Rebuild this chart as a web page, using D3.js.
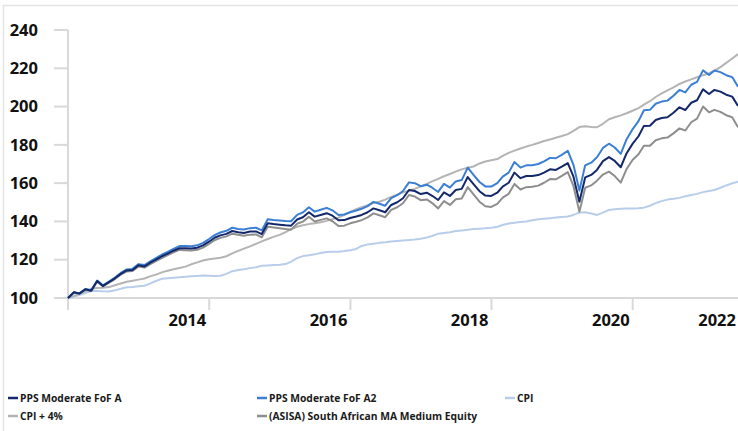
<!DOCTYPE html>
<html>
<head>
<meta charset="utf-8">
<script src="https://cdn.jsdelivr.net/npm/d3@7/dist/d3.min.js"></script>
<style>
  html, body { margin: 0; padding: 0; background: #fff; }
  svg { display: block; font-family: "Open Sans", sans-serif; }
</style>
</head>
<body>
<svg id="chart" width="738" height="431"></svg>
<script>
// Monthly index values, Dec 2012 = 100 (month-end closes through Jun 2022)
const firstMonthEnd = new Date(2012, 11, 31);

const fofA = [
  100.0, 103.0, 102.3, 104.6, 103.8, 108.9, 106.3, 108.3, 110.3, 112.6,
  114.4, 114.6, 117.1, 116.5, 118.3, 120.0, 121.7, 123.2, 124.7, 126.0,
  126.0, 125.8, 126.3, 127.5, 129.4, 131.6, 132.7, 133.5, 135.0, 134.4,
  134.0, 134.7, 134.8, 133.4, 139.0, 138.6, 138.3, 138.0, 137.8, 141.0,
  142.2, 144.8, 142.5, 143.4, 144.3, 143.0, 140.6, 140.7, 141.8, 142.6,
  143.4, 144.8, 146.8, 145.8, 144.8, 148.6, 150.0, 152.1, 156.4, 155.9,
  154.3, 155.0, 153.4, 151.2, 155.2, 153.3, 156.4, 157.0, 163.2, 159.5,
  155.8, 153.5, 153.3, 155.0, 158.2, 160.2, 165.5, 162.6, 163.7, 163.7,
  164.2, 165.5, 167.2, 166.9, 168.6, 170.5, 163.5, 150.3, 163.0, 164.3,
  166.9, 171.5, 173.6, 171.6, 168.3, 175.5, 180.5, 184.5, 189.9, 190.0,
  193.0, 194.0, 194.4, 196.8, 199.6, 198.2, 202.0, 203.3, 209.0, 206.6,
  208.7, 207.8, 206.2, 205.2, 200.3
];

const fofA2 = [
  100.0, 103.0, 102.4, 104.7, 104.0, 109.1, 106.6, 108.6, 110.7, 113.1,
  114.9, 115.2, 117.7, 117.2, 119.0, 120.8, 122.6, 124.1, 125.7, 127.1,
  127.1, 127.0, 127.5, 128.8, 130.8, 133.0, 134.2, 135.1, 136.7, 136.1,
  135.8, 136.5, 136.7, 135.3, 141.1, 140.7, 140.5, 140.2, 140.1, 143.4,
  144.7, 147.4, 145.1, 146.1, 147.1, 145.8, 143.4, 143.6, 144.8, 145.7,
  146.6, 148.0, 150.2, 149.2, 148.2, 152.2, 153.7, 155.9, 160.4, 160.0,
  158.4, 159.2, 157.6, 155.4, 159.6, 157.7, 160.9, 161.6, 168.1, 164.3,
  160.6, 158.3, 158.2, 160.0, 163.4, 165.5, 171.0, 168.1, 169.3, 169.4,
  170.0, 171.4, 173.2, 173.0, 174.8, 176.9, 169.7, 156.1, 169.3, 170.7,
  173.5, 178.4, 180.6, 178.6, 175.3, 182.8, 188.1, 192.4, 198.1, 198.3,
  201.5, 202.6, 203.1, 205.7, 208.7, 207.4, 211.4, 212.9, 218.9, 216.5,
  218.8, 218.0, 216.4, 215.4, 210.4
];

const cpi = [
  100.0, 100.8, 101.6, 102.6, 103.6, 103.7, 103.5, 103.4, 104.0, 104.8,
  105.6, 105.8, 106.1, 106.4, 107.5, 108.9, 110.0, 110.3, 110.6, 110.9,
  111.1, 111.3, 111.5, 111.7, 111.6, 111.5, 111.6, 112.6, 114.0, 114.6,
  115.0, 115.6, 116.1, 116.8, 117.0, 117.2, 117.4, 117.7, 119.0, 120.8,
  121.9, 122.3, 122.8, 123.5, 124.0, 124.1, 124.2, 124.5, 125.0, 125.6,
  127.2, 128.0, 128.4, 128.8, 129.1, 129.5, 129.8, 130.1, 130.3, 130.6,
  131.0, 131.6, 132.4, 133.6, 134.0, 134.4, 135.0, 135.3, 135.6, 136.0,
  136.2, 136.4, 136.7, 137.2, 138.1, 138.9, 139.3, 139.7, 140.0, 140.6,
  141.1, 141.4, 141.7, 142.0, 142.3, 142.6, 143.4, 144.6, 144.8, 144.1,
  143.4, 144.6, 146.0, 146.4, 146.6, 146.7, 146.8, 146.9, 147.2, 148.2,
  149.6, 150.6, 151.4, 151.8, 152.3, 153.2, 153.8, 154.4, 155.3, 155.9,
  156.4, 157.6, 158.8, 159.9, 160.7
];

const cpiPlus4 = [
  100.0, 101.1, 102.2, 103.5, 104.8, 105.2, 105.4, 105.7, 106.7, 107.6,
  108.5, 109.0, 109.6, 110.2, 111.3, 112.2, 113.4, 114.2, 115.0, 115.7,
  116.4, 117.6, 118.6, 119.6, 120.2, 120.6, 121.0, 121.8, 123.3, 124.6,
  125.8, 127.0, 128.3, 129.6, 130.8, 131.9, 133.0, 134.4, 136.0, 137.2,
  138.0, 138.6, 139.0, 139.6, 140.3, 141.2, 142.0, 143.4, 145.0, 146.4,
  147.4, 148.5, 149.6, 150.3, 151.4, 152.8, 154.0, 155.2, 156.0, 157.0,
  158.3, 159.6, 160.9, 162.2, 163.6, 164.8, 166.0, 167.2, 168.0, 168.7,
  170.3, 171.3, 172.0, 172.6, 174.2, 175.8, 177.0, 178.1, 179.1, 180.0,
  181.0, 182.0, 182.8, 183.7, 184.6, 185.6, 187.3, 189.3, 189.7, 189.3,
  189.2, 191.0, 193.4, 194.4, 195.4, 196.5, 197.8, 199.2, 201.0, 202.8,
  205.0, 206.9, 208.5, 210.0, 211.8, 213.1, 214.2, 215.3, 216.4, 217.4,
  218.8, 220.6, 222.8, 225.1, 227.4
];

const asisaMedEquity = [
  100.0, 102.9, 102.2, 104.4, 103.6, 108.6, 106.0, 108.0, 109.9, 112.2,
  113.9, 114.1, 116.5, 115.9, 117.6, 119.3, 120.9, 122.4, 123.8, 125.1,
  125.0, 124.8, 125.2, 126.3, 128.2, 130.3, 131.4, 132.2, 133.6, 133.0,
  132.5, 133.1, 133.2, 131.7, 137.2, 136.8, 136.4, 136.0, 135.7, 138.8,
  139.9, 142.4, 140.0, 140.8, 141.6, 140.1, 137.6, 137.8, 139.0, 139.8,
  140.7, 142.1, 144.2, 143.2, 142.2, 146.0, 147.4, 149.5, 153.8, 153.0,
  151.1, 151.5, 149.6, 146.8, 150.6, 148.6, 151.6, 152.0, 157.9, 154.1,
  150.3, 147.9, 147.6, 149.2, 152.4, 154.4, 159.6, 156.7, 157.9, 158.1,
  158.7, 160.2, 162.1, 162.0, 163.8, 165.8, 158.6, 145.1, 157.6, 158.8,
  161.3, 164.5, 166.0, 163.7, 160.3, 167.3, 172.1, 175.1, 179.5, 179.5,
  182.4, 183.4, 183.8, 186.0, 188.6, 187.5, 191.8, 193.7, 200.0, 197.0,
  198.3, 197.2, 195.5, 194.4, 189.2
];

const yTicks = [100, 120, 140, 160, 180, 200, 220, 240];
const xTickLabels = ["2014", "2016", "2018", "2020", "2022"];

// legend order (rows of three), drawing order is separate
const series = [
  { name: "PPS Moderate FoF A", values: fofA, color: "#14296b", z: 5 },
  { name: "PPS Moderate FoF A2", values: fofA2, color: "#3a7fd4", z: 4 },
  { name: "CPI", values: cpi, color: "#b8cde9", z: 1 },
  { name: "CPI + 4%", values: cpiPlus4, color: "#b4b4b4", z: 2 },
  { name: "(ASISA) South African MA Medium Equity", values: asisaMedEquity, color: "#8e8e8e", z: 3 }
];

const W = 738, H = 431;
const plot = { left: 68, right: 738, top: 30, bottom: 298 };

// month-end dates for each point
const dates = fofA.map((_, i) =>
  d3.timeDay.offset(d3.timeMonth.offset(new Date(2013, 0, 1), i), -1));

const x = d3.scaleTime()
  .domain([firstMonthEnd, dates[dates.length - 1]])
  .range([plot.left, plot.right]);
const y = d3.scaleLinear().domain([100, 240]).range([plot.bottom, plot.top]);

const svg = d3.select("#chart");
const axisColor = "#d9d9d9";

// faint frame on top / left edge
svg.append("path")
  .attr("d", `M3.5,${H} V5.5 H${W}`)
  .attr("fill", "none").attr("stroke", "#e4e4e4").attr("stroke-width", 1.5);

// y axis: vertical line + short outside ticks
svg.append("line")
  .attr("x1", plot.left).attr("x2", plot.left)
  .attr("y1", y(240)).attr("y2", plot.bottom + 12)
  .attr("stroke", axisColor).attr("stroke-width", 2);

const yg = svg.append("g");
yg.selectAll("line").data(yTicks).join("line")
  .attr("x1", 54).attr("x2", plot.left)
  .attr("y1", d => y(d)).attr("y2", d => y(d))
  .attr("stroke", axisColor).attr("stroke-width", 2);
yg.selectAll("text").data(yTicks).join("text")
  .attr("x", 38).attr("y", d => y(d)).attr("dy", "0.35em")
  .attr("text-anchor", "end")
  .attr("font-size", 16.5).attr("font-weight", 700).attr("fill", "#111")
  .text(d => d);

// x axis baseline across the plot
svg.append("line")
  .attr("x1", 54).attr("x2", plot.right)
  .attr("y1", plot.bottom).attr("y2", plot.bottom)
  .attr("stroke", axisColor).attr("stroke-width", 2);

// year ticks sit at year end; label right-aligned to its tick
const xTicks = xTickLabels.map(lbl => {
  const d = new Date(+lbl + 1, 0, 1);
  return { lbl, px: Math.min(x(d), plot.right), inside: x(d) <= plot.right };
});
const xg = svg.append("g");
xg.selectAll("line").data(xTicks.filter(t => t.inside)).join("line")
  .attr("x1", d => d.px).attr("x2", d => d.px)
  .attr("y1", plot.bottom).attr("y2", plot.bottom + 12)
  .attr("stroke", axisColor).attr("stroke-width", 2);
xg.selectAll("text").data(xTicks).join("text")
  .attr("x", d => d.inside ? d.px - 3 : d.px - 2)
  .attr("y", 326)
  .attr("text-anchor", "end")
  .attr("font-size", 16.5).attr("font-weight", 700).attr("fill", "#111")
  .text(d => d.lbl);

// lines
const line = d3.line()
  .x((d, i) => x(dates[i]))
  .y(d => y(d));

svg.append("g")
  .selectAll("path")
  .data(series.slice().sort((a, b) => a.z - b.z))
  .join("path")
  .attr("d", d => line(d.values))
  .attr("fill", "none")
  .attr("stroke", d => d.color)
  .attr("stroke-width", 2)
  .attr("stroke-linejoin", "round");

// legend, 3 columns
const legCols = [8, 257, 505], legRows = [398, 416];
const leg = svg.append("g").selectAll("g").data(series).join("g")
  .attr("transform", (d, i) => `translate(${legCols[i % 3]},${legRows[Math.floor(i / 3)]})`);
leg.append("line")
  .attr("x1", 0).attr("x2", 10).attr("y1", 0).attr("y2", 0)
  .attr("stroke", d => d.color).attr("stroke-width", 2.5);
leg.append("text")
  .attr("x", 12).attr("y", 0).attr("dy", "0.35em")
  .attr("font-size", 10.3).attr("font-weight", 700).attr("fill", "#1a1a1a")
  .text(d => d.name);
</script>
</body>
</html>
